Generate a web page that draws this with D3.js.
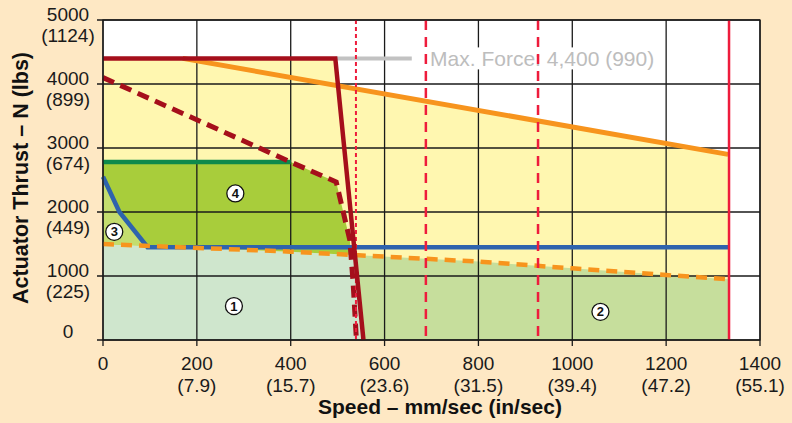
<!DOCTYPE html>
<html><head><meta charset="utf-8">
<script src="https://cdn.jsdelivr.net/npm/d3@7"></script>
<style>
html,body{margin:0;padding:0;background:#fee8c4;}
svg{display:block;font-family:"Liberation Sans",Arial,Helvetica,sans-serif;}
</style></head>
<body><svg id="c" width="792" height="423"></svg>
<script>
// ---- data ----
const speedTicks = [0, 200, 400, 600, 800, 1000, 1200, 1400];
const speedInLabels = ["", "(7.9)", "(15.7)", "(23.6)", "(31.5)", "(39.4)", "(47.2)", "(55.1)"];
const thrustTicks = [0, 1000, 2000, 3000, 4000, 5000];
const thrustLbsLabels = ["", "(225)", "(449)", "(674)", "(899)", "(1124)"];

const maxForceLine = [[0, 4400], [495, 4400], [555, 0]];          // dark red solid
const orangeLimit = [[170, 4400], [1332, 2900]];                   // orange solid
const orangeDashed = [[0, 1500], [400, 1380], [800, 1225], [1000, 1120], [1200, 1015], [1332, 950]];
const blueLine = [[0, 2550], [35, 2000], [95, 1450], [1332, 1450]];
const greenLine = [[0, 2780], [400, 2780]];
const redDashed = [[0, 4100], [400, 2780], [497, 2470], [526, 1560], [533, 890], [540, 0]];
const grayLine = [[495, 4400], [658, 4400]];
const redSolidSpeed = 1334;
const redDashedSpeeds = [688, 927];
const redDottedSpeed = 539;
const maxForceText = "Max. Force: 4,400 (990)";
const maxForceTextPos = [697, 4400];
const zoneLabels = [
  {n: "1", s: 279, t: 530},
  {n: "2", s: 1060, t: 440},
  {n: "3", s: 24, t: 1690},
  {n: "4", s: 282, t: 2290}
];

// ---- layout ----
const W = 792, H = 423;
const L = 103, R = 760, T = 20, B = 340;
const x = d3.scaleLinear().domain([0, 1400]).range([L, R]);
const y = d3.scaleLinear().domain([0, 5000]).range([B, T]);
const svg = d3.select("#c");
const line = d3.line().x(d => x(d[0])).y(d => y(d[1]));
const poly = pts => line(pts) + "Z";

svg.append("rect").attr("width", W).attr("height", H).attr("fill", "#fee8c4");
svg.append("rect").attr("x", L).attr("y", T).attr("width", R - L).attr("height", B - T).attr("fill", "#ffffff");

const defs = svg.append("defs");
const mfTop = maxForceLine[1], mfBot = maxForceLine[2];
defs.append("clipPath").attr("id", "leftRed").append("path")
  .attr("d", poly([maxForceLine[0], mfTop, mfBot, [0, 0]]));
defs.append("clipPath").attr("id", "rightRed").append("path")
  .attr("d", poly([mfTop, [1400, mfTop[1]], [1400, 0], mfBot]));
const odEnd = orangeDashed[orangeDashed.length - 1];
defs.append("clipPath").attr("id", "aboveOD").append("path")
  .attr("d", poly([...orangeDashed, [odEnd[0], 5000], [0, 5000]]));
defs.append("clipPath").attr("id", "plotClip").append("rect")
  .attr("x", L).attr("y", T).attr("width", R - L).attr("height", B - T);

const fills = svg.append("g").attr("clip-path", "url(#plotClip)");
// yellow region
const yellow = "#fff7b0";
fills.append("path").attr("fill", yellow).attr("d", poly([...maxForceLine, [0, 0]]));
const oEnd = orangeLimit[orangeLimit.length - 1];
fills.append("path").attr("fill", yellow)
  .attr("d", poly([[0, orangeLimit[0][1]], ...orangeLimit, [oEnd[0], 0], [0, 0]]));
// region 1 & 2
const underOD = poly([...orangeDashed, [odEnd[0], 0], [0, 0]]);
fills.append("g").attr("clip-path", "url(#leftRed)").append("path").attr("fill", "#cfe6cd").attr("d", underOD);
fills.append("g").attr("clip-path", "url(#rightRed)").append("path").attr("fill", "#c6de9c").attr("d", underOD);
// region 4
fills.append("g").attr("clip-path", "url(#aboveOD)").append("path").attr("fill", "#a8cd3b")
  .attr("d", poly([...greenLine, ...redDashed.slice(1), [0, 0]]));
// region 3
fills.append("g").attr("clip-path", "url(#aboveOD)").append("path").attr("fill", "#c4dd6e")
  .attr("d", poly([...blueLine.slice(0, 3), [blueLine[2][0], 0], [0, 0]]));

// grid
const grid = svg.append("g").attr("stroke", "#1a1a1a").attr("stroke-width", 1.3);
speedTicks.forEach(s => grid.append("line").attr("x1", x(s)).attr("x2", x(s)).attr("y1", T).attr("y2", B + 6));
thrustTicks.forEach(t => grid.append("line").attr("x1", L - 6).attr("x2", R).attr("y1", y(t)).attr("y2", y(t)));

// max force annotation
const tx = x(maxForceTextPos[0]), ty = y(maxForceTextPos[1]);
const annot = svg.append("g");
const bgRect = annot.append("rect").attr("fill", "#fff");
const label = annot.append("text").attr("x", tx).attr("y", ty + 8).attr("font-size", 21)
  .attr("fill", "#bdbdbd").text(maxForceText);
const bb = label.node().getBBox();
bgRect.attr("x", bb.x - 3).attr("y", ty - 11).attr("width", bb.width + 5).attr("height", 22);
svg.append("path").attr("d", line(grayLine)).attr("stroke", "#c2c2c2").attr("stroke-width", 4).attr("fill", "none");

// lines
const draw = (pts, color, w, dash) => svg.append("path").attr("d", line(pts)).attr("fill", "none")
  .attr("stroke", color).attr("stroke-width", w).attr("stroke-dasharray", dash || null);
draw(orangeLimit, "#f7941d", 5);
draw(greenLine, "#0e8a4c", 4.5);
draw(blueLine, "#2e63ad", 4.5);
draw(orangeDashed, "#f7941d", 4.5, "11,7");
draw(redDashed, "#a50f1b", 5, "12,7");

// red verticals
svg.append("line").attr("x1", x(redDottedSpeed)).attr("x2", x(redDottedSpeed)).attr("y1", T).attr("y2", B)
  .attr("stroke", "#ee1c3c").attr("stroke-width", 2).attr("stroke-dasharray", "4,3");
redDashedSpeeds.forEach(s => svg.append("line").attr("x1", x(s)).attr("x2", x(s)).attr("y1", T).attr("y2", B)
  .attr("stroke", "#ee1c3c").attr("stroke-width", 2.5).attr("stroke-dasharray", "10,7"));
svg.append("line").attr("x1", x(redSolidSpeed)).attr("x2", x(redSolidSpeed)).attr("y1", T).attr("y2", B)
  .attr("stroke", "#ee1c3c").attr("stroke-width", 2.5);

draw(maxForceLine, "#a50f1b", 4.5);

// border
svg.append("rect").attr("x", L).attr("y", T).attr("width", R - L).attr("height", B - T)
  .attr("fill", "none").attr("stroke", "#1a1a1a").attr("stroke-width", 1.3);

// zone labels
const zl = svg.append("g").selectAll("g").data(zoneLabels).join("g")
  .attr("transform", d => `translate(${x(d.s)},${y(d.t)})`);
zl.append("circle").attr("r", 8.5).attr("fill", "#fff").attr("stroke", "#111").attr("stroke-width", 1.3);
zl.append("text").attr("text-anchor", "middle").attr("y", 4.5).attr("font-size", 13).attr("font-weight", "bold")
  .attr("fill", "#111").text(d => d.n);

// tick labels
const tl = svg.append("g").attr("font-size", 19).attr("fill", "#1a1a1a").attr("text-anchor", "middle");
speedTicks.forEach((s, i) => {
  tl.append("text").attr("x", x(s)).attr("y", 370).text(s);
  if (speedInLabels[i]) tl.append("text").attr("x", x(s)).attr("y", 391.5).text(speedInLabels[i]);
});
thrustTicks.forEach((t, i) => {
  if (i === 0) { tl.append("text").attr("x", 68).attr("y", y(t) - 2).text(t); return; }
  tl.append("text").attr("x", 68).attr("y", y(t) + 0.5).text(t);
  tl.append("text").attr("x", 68).attr("y", y(t) + 22).text(thrustLbsLabels[i]);
});

// axis titles
svg.append("text").attr("x", 440).attr("y", 414).attr("text-anchor", "middle").attr("font-size", 21)
  .attr("font-weight", "bold").attr("fill", "#111").text("Speed – mm/sec (in/sec)");
svg.append("text").attr("transform", "translate(28,178) rotate(-90)").attr("text-anchor", "middle")
  .attr("font-size", 21.5).attr("font-weight", "bold").attr("fill", "#111").text("Actuator Thrust – N (lbs)");
</script></body></html>
